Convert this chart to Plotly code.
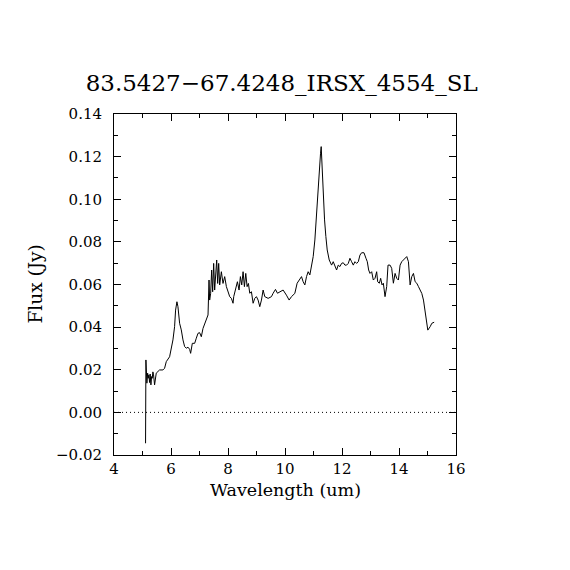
import plotly.graph_objects as go

# spectrum
wave = [5.107, 5.12, 5.154, 5.18, 5.201, 5.225, 5.248, 5.27, 5.295, 5.32, 5.341, 5.365,
        5.388, 5.424, 5.482, 5.599, 5.716, 5.775, 5.834, 5.951, 6.009, 6.068, 6.126,
        6.161, 6.208, 6.244, 6.302, 6.361, 6.42, 6.478, 6.537, 6.596, 6.654, 6.689,
        6.748, 6.83, 6.888, 6.947, 7.005, 7.064, 7.123, 7.181, 7.24, 7.299, 7.334,
        7.357, 7.392, 7.427, 7.462, 7.497, 7.532, 7.568, 7.603, 7.638, 7.673, 7.708,
        7.767, 7.825, 7.884, 7.943, 8.001, 8.06, 8.119, 8.177, 8.201, 8.271, 8.33,
        8.388, 8.435, 8.482, 8.529, 8.576, 8.623, 8.67, 8.716, 8.763, 8.822, 8.881,
        8.939, 8.998, 9.056, 9.115, 9.174, 9.232, 9.291, 9.408, 9.525, 9.584, 9.666,
        9.736, 9.818, 9.934, 10.051, 10.145, 10.227, 10.344, 10.426, 10.497, 10.579,
        10.637, 10.696, 10.755, 10.813, 10.872, 10.931, 10.989, 11.048, 11.106,
        11.165, 11.2, 11.247, 11.27, 11.294, 11.341, 11.388, 11.434, 11.481, 11.552,
        11.634, 11.692, 11.751, 11.81, 11.868, 11.927, 11.985, 12.044, 12.103, 12.161,
        12.22, 12.279, 12.337, 12.396, 12.454, 12.513, 12.572, 12.63, 12.689, 12.771,
        12.841, 12.888, 12.935, 12.982, 13.041, 13.099, 13.158, 13.216, 13.252,
        13.31, 13.357, 13.404, 13.451, 13.51, 13.568, 13.615, 13.686, 13.744, 13.803,
        13.862, 13.92, 13.979, 14.038, 14.096, 14.155, 14.214, 14.272, 14.331, 14.39,
        14.448, 14.507, 14.566, 14.624, 14.683, 14.741, 14.8, 14.859, 14.917, 14.976,
        15.011, 15.093, 15.152, 15.234]
flux = [-0.0145, 0.0246, 0.0137, 0.0184, 0.0160, 0.0176, 0.0140, 0.0180, 0.0129, 0.0168,
        0.0160, 0.0190, 0.0176, 0.0129, 0.0184, 0.0199, 0.0199, 0.0207, 0.0238, 0.0261,
        0.0293, 0.0340, 0.0402, 0.0480, 0.0519, 0.0496, 0.0418, 0.0387, 0.0340, 0.0309,
        0.0301, 0.0306, 0.0296, 0.0277, 0.0324, 0.0324, 0.0348, 0.0371, 0.0374, 0.0355,
        0.0394, 0.0418, 0.0441, 0.0457, 0.0621, 0.0527, 0.0559, 0.0668, 0.0566, 0.0699,
        0.0574, 0.0684, 0.0715, 0.0605, 0.0699, 0.0598, 0.0660, 0.0605, 0.0637, 0.0590,
        0.0566, 0.0543, 0.0535, 0.0512, 0.0543, 0.0582, 0.0613, 0.0574, 0.0637, 0.0598,
        0.0660, 0.0590, 0.0652, 0.0590, 0.0605, 0.0559, 0.0566, 0.0512, 0.0535, 0.0543,
        0.0527, 0.0496, 0.0527, 0.0574, 0.0543, 0.0535, 0.0543, 0.0559, 0.0577, 0.0559,
        0.0566, 0.0574, 0.0550, 0.0527, 0.0543, 0.0558, 0.0606, 0.0621, 0.0637, 0.0613,
        0.0598, 0.0637, 0.0660, 0.0645, 0.0684, 0.0731, 0.0809, 0.0934, 0.1090, 0.1169,
        0.1216, 0.1247, 0.1169, 0.1013, 0.0903, 0.0825, 0.0762, 0.0715, 0.0691, 0.0707,
        0.0684, 0.0668, 0.0691, 0.0684, 0.0699, 0.0702, 0.0691, 0.0691, 0.0699, 0.0723,
        0.0707, 0.0691, 0.0707, 0.0699, 0.0707, 0.0738, 0.0749, 0.0749, 0.0723, 0.0707,
        0.0668, 0.0652, 0.0660, 0.0621, 0.0629, 0.0660, 0.0613, 0.0606, 0.0629, 0.0598,
        0.0606, 0.0543, 0.0590, 0.0691, 0.0691, 0.0676, 0.0606, 0.0652, 0.0629, 0.0621,
        0.0691, 0.0707, 0.0715, 0.0723, 0.0731, 0.0707, 0.0598, 0.0637, 0.0652, 0.0613,
        0.0606, 0.0590, 0.0574, 0.0558, 0.0527, 0.0473, 0.0402, 0.0386, 0.0402, 0.0418,
        0.0423]

zero_x = [4, 16]
zero_y = [0, 0]

x_ticks = [4, 6, 8, 10, 12, 14, 16]
y_ticks = [-0.02, 0.00, 0.02, 0.04, 0.06, 0.08, 0.10, 0.12, 0.14]
y_labels = ["\u22120.02", "0.00", "0.02", "0.04", "0.06", "0.08", "0.10", "0.12", "0.14"]

title = "83.5427\u221267.4248_IRSX_4554_SL"
font = "DejaVu Serif"

# page body has an 8px margin, so the figure is a bit smaller than the window
W = H = 554

fig = go.Figure()
fig.add_trace(go.Scatter(x=zero_x, y=zero_y, mode="lines",
                         line=dict(color="black", width=1, dash="1px,3px")))
fig.add_trace(go.Scatter(x=wave, y=flux, mode="lines",
                         line=dict(color="black", width=1)))

axis_common = dict(showgrid=False, zeroline=False, showline=True, linecolor="black",
                   linewidth=1, mirror="allticks", ticks="inside", ticklen=7,
                   tickcolor="black", tickwidth=1, automargin=False,
                   tickfont=dict(family=font, size=15, color="black"))

fig.update_xaxes(range=[4, 16], tickvals=x_ticks, ticklabelstandoff=0,
                 minor=dict(dtick=1, ticks="inside", ticklen=4, tickcolor="black"),
                 **axis_common)
fig.update_yaxes(range=[-0.02, 0.14], tickvals=y_ticks, ticktext=y_labels,
                 ticklabelstandoff=8,
                 minor=dict(dtick=0.01, ticks="inside", ticklen=4, tickcolor="black"),
                 **axis_common)

fig.add_annotation(text="Wavelength (um)", xref="paper", yref="paper", x=0.5, y=0,
                   xanchor="center", yanchor="middle", yshift=-35, showarrow=False,
                   font=dict(family=font, size=17.5, color="black"))
fig.add_annotation(text="Flux (Jy)", xref="paper", yref="paper", x=0, y=0.5,
                   xanchor="center", yanchor="middle", xshift=-79, textangle=-90,
                   showarrow=False, font=dict(family=font, size=18.5, color="black"))

fig.update_layout(
    width=W, height=H,
    margin=dict(l=106, r=106, t=106, b=107),
    paper_bgcolor="white", plot_bgcolor="white",
    showlegend=False,
    title=dict(text=title, x=0.494, xanchor="center", y=1 - 75 / H, yanchor="middle",
               font=dict(family=font, size=23, color="black")),
)

fig.write_html("out.html")
